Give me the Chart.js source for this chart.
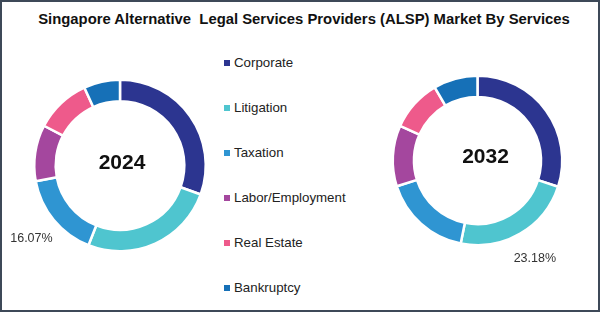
<!DOCTYPE html>
<html>
<head>
<meta charset="utf-8">
<script src="https://cdn.jsdelivr.net/npm/chart.js@4.4.0/dist/chart.umd.min.js"></script>
<style>
  body { margin: 0; background: #fff; }
  #frame {
    position: relative; width: 600px; height: 312px; background: #fff;
    box-shadow: inset 0 0 0 2px #3d4958; overflow: hidden;
    font-family: "Liberation Sans", Arial, sans-serif;
  }
  #title {
    position: absolute; left: 4px; top: 11px; width: 600px; text-align: center;
    font-weight: bold; font-size: 14.85px; color: #111; white-space: pre;
  }
  canvas { position: absolute; }
  .item { position: absolute; left: 224px; font-size: 13.3px; color: #222; line-height: 16px; }
  .item span { position: absolute; left: 0; top: 5px; width: 6px; height: 6px; }
  .item b { font-weight: normal; position: absolute; left: 10px; top: 0; white-space: nowrap; }
</style>
</head>
<body>
<div id="frame">
  <div id="title">Singapore Alternative  Legal Services Providers (ALSP) Market By Services</div>
  <canvas id="c2024" width="220" height="220" style="left:0;top:60px"></canvas>
  <canvas id="c2032" width="220" height="220" style="left:380px;top:60px"></canvas>
  <div id="legend"></div>
</div>
<script>
// data
let services = ['Corporate', 'Litigation', 'Taxation', 'Labor/Employment', 'Real Estate', 'Bankruptcy'];
let share2024 = [30.5, 25.5, 16.07, 10.6, 10.5, 6.83];
let share2032 = [30.0, 23.18, 16.9, 11.6, 9.9, 8.42];
let colors = ['#2c3590', '#4fc5cf', '#2f95d2', '#a4479e', '#ee5a8b', '#1670b7'];

// legend
let legend = document.getElementById('legend');
services.forEach(function (s, i) {
    let d = document.createElement('div');
    d.className = 'item';
    d.style.top = (55 + i * 45) + 'px';
    d.innerHTML = '<span style="background:' + colors[i] + '"></span><b>' + s + '</b>';
    legend.appendChild(d);
});

// year in the hole + one percentage label outside the ring
const centerText = {
    id: 'centerText',
    afterDatasetsDraw(chart, args, opts) {
        let meta = chart.getDatasetMeta(0);
        let first = meta.data[0];
        let ctx = chart.ctx;
        ctx.save();
        ctx.textAlign = 'center';
        ctx.textBaseline = 'middle';
        ctx.fillStyle = '#111';
        ctx.font = 'bold 21px "Liberation Sans", Arial, sans-serif';
        ctx.fillText(opts.text, first.x + opts.dx, first.y + opts.dy);

        let a = meta.data[opts.labelIndex];
        let mid = (a.startAngle + a.endAngle) / 2;
        let r = a.outerRadius + 29;
        let v = chart.data.datasets[0].data[opts.labelIndex];
        ctx.font = '12.5px "Liberation Sans", Arial, sans-serif';
        ctx.fillStyle = '#333';
        ctx.fillText(v.toFixed(2) + '%', first.x + Math.cos(mid) * r, first.y + Math.sin(mid) * r);
        ctx.restore();
    }
};

function donut(id, values, year, labelIndex, padding, dx, dy) {
    return new Chart(document.getElementById(id).getContext('2d'), {
        type: 'doughnut',
        data: {
            labels: services,
            datasets: [{
                data: values,
                backgroundColor: colors,
                borderColor: '#ffffff',
                borderWidth: 2.5
            }]
        },
        options: {
            responsive: false,
            animation: false,
            cutout: '75%',
            layout: { padding: padding },
            plugins: {
                legend: { display: false },
                tooltip: { enabled: false },
                centerText: { text: year, labelIndex: labelIndex, dx: dx, dy: dy }
            }
        },
        plugins: [centerText]
    });
}

donut('c2024', share2024, '2024', 2, { left: 33, right: 13, top: 18.5, bottom: 27.5 }, 2, -2);
donut('c2032', share2032, '2032', 1, { left: 11.5, right: 36.5, top: 14.5, bottom: 33.5 }, 8, -3);
</script>
</body>
</html>
